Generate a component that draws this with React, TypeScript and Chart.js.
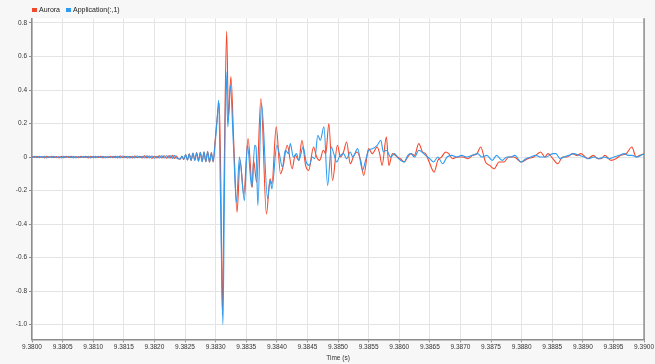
import { useEffect, useRef } from "react";
import { Chart, registerables } from "chart.js";

Chart.register(...registerables);

const seriesNames = ["Aurora", "Application(:,1)"];
const seriesColors = ["#f4482c", "#2e9cf0"];

const xMin = 9.38;
const xMax = 9.39;
const xStep = 0.0005;
const yMin = -1.088;
const yMax = 0.828;
const yStep = 0.2;
const xTitle = "Time (s)";

// shared sample times for the quiet part before the event (s)
const noiseTimes = [
  9.38, 9.38004, 9.38008, 9.38012, 9.38016, 9.3802, 9.38024, 9.38028, 9.38032, 9.38036,
  9.3804, 9.38044, 9.38048, 9.38052, 9.38056, 9.3806, 9.38064, 9.38068, 9.38072, 9.38076,
  9.3808, 9.38084, 9.38088, 9.38092, 9.38096, 9.381, 9.38104, 9.38108, 9.38112, 9.38116,
  9.3812, 9.38124, 9.38128, 9.38132, 9.38136, 9.3814, 9.38144, 9.38148, 9.38152, 9.38156,
  9.3816, 9.38164, 9.38168, 9.38172, 9.38176, 9.3818, 9.38184, 9.38188, 9.38192, 9.38196,
  9.382, 9.38204, 9.38208, 9.38212, 9.38216, 9.3822,
  9.38224, 9.38227, 9.3823, 9.38233, 9.38236, 9.38239, 9.38242, 9.38245, 9.38248, 9.38251,
  9.38254, 9.38257, 9.3826, 9.38263, 9.38266, 9.38269, 9.38272, 9.38275, 9.38278, 9.38281,
  9.38284, 9.38287, 9.3829,
];

const auroraNoise = [
  0.004, -0.003, 0.005, -0.004, 0.003, -0.005, 0.004, -0.003, 0.005, -0.004,
  0.003, -0.005, 0.004, -0.004, 0.005, -0.003, 0.004, -0.005, 0.003, -0.004,
  0.005, -0.003, 0.004, -0.005, 0.004, -0.004, 0.005, -0.003, 0.004, -0.005,
  0.003, -0.004, 0.005, -0.004, 0.004, -0.005, 0.006, -0.004, 0.005, -0.006,
  0.004, -0.005, 0.006, -0.004, 0.005, -0.006, 0.007, -0.005, 0.006, -0.007,
  0.005, -0.006, 0.007, -0.006, 0.008, -0.007,
  0.009, -0.007, 0.01, -0.009, 0.006, -0.011, -0.013, 0.004, -0.015, 0.013,
  -0.017, 0.019, -0.021, 0.022, -0.019, 0.026, -0.023, 0.028, -0.026, 0.03,
  -0.029, 0.032, -0.031,
];

const applicationNoise = [
  -0.003, 0.004, -0.004, 0.005, -0.003, 0.004, -0.005, 0.003, -0.004, 0.005,
  -0.004, 0.003, -0.005, 0.004, -0.003, 0.005, -0.004, 0.004, -0.005, 0.003,
  -0.004, 0.005, -0.003, 0.004, -0.005, 0.004, -0.004, 0.005, -0.003, 0.004,
  -0.005, 0.003, -0.004, 0.005, -0.004, 0.004, -0.005, 0.006, -0.004, 0.005,
  -0.006, 0.004, -0.005, 0.006, -0.004, 0.005, -0.006, 0.007, -0.005, 0.006,
  -0.007, 0.005, -0.006, 0.007, -0.006, 0.008,
  -0.006, 0.009, -0.008, 0.01, -0.007, -0.01, -0.012, 0.006, -0.013, 0.015,
  -0.018, 0.017, -0.02, 0.024, -0.021, 0.024, -0.025, 0.026, -0.028, 0.029,
  -0.027, 0.031, -0.03,
];

const auroraTimes = [
  9.38293, 9.38296, 9.38299, 9.38302, 9.38306, 9.38309, 9.38311, 9.38314, 9.38318, 9.38321,
  9.38325, 9.3833, 9.38335, 9.3834, 9.38346, 9.38353, 9.3836, 9.38362, 9.38367, 9.38374,
  9.38383, 9.38389, 9.38392, 9.38399, 9.38406, 9.3841, 9.38417, 9.38425, 9.3843, 9.38436,
  9.38441, 9.38447, 9.38452, 9.3846, 9.38465, 9.3847, 9.38476, 9.3848, 9.38485, 9.38491,
  9.38499, 9.38504, 9.38509, 9.38514, 9.3852, 9.38526, 9.38531, 9.38537, 9.38542, 9.3855,
  9.38556, 9.38564, 9.38568, 9.38572, 9.38579, 9.38583, 9.38589, 9.38597, 9.38602, 9.38608,
  9.38614, 9.38619, 9.38625, 9.38632, 9.38638, 9.38643, 9.38649, 9.38657, 9.38663, 9.38669,
  9.38676, 9.38681, 9.38687, 9.38696, 9.38704, 9.38712, 9.3872, 9.38727, 9.38733, 9.38741,
  9.38748, 9.38755, 9.38763, 9.38771, 9.38779, 9.38787, 9.38792, 9.38799, 9.3881, 9.3882,
  9.38831, 9.38838, 9.38843, 9.38849, 9.38859, 9.38867, 9.38874, 9.38883, 9.3889, 9.38897,
  9.38908, 9.38917, 9.38925, 9.3893, 9.38936, 9.38946, 9.38954, 9.38962, 9.38971, 9.3898,
  9.38987, 9.38993, 9.39,
];

const auroraValues = [
  0.027, -0.03, 0.09, 0.21, 0.32, -0.3, -0.94, -0.1, 0.75, 0.24,
  0.48, 0.05, -0.33, -0.02, -0.22, 0.11, -0.18, -0.02, -0.15, 0.35,
  -0.34, -0.13, -0.16, 0.18, -0.1, -0.06, 0.07, -0.07, 0.01, -0.02,
  0.1, -0.05, -0.08, 0.06, 0.0, -0.02, 0.04, 0.02, 0.2, -0.14,
  0.07, 0.0, 0.03, 0.09, -0.04, 0.01, 0.03, -0.02, -0.11, 0.05,
  0.02, 0.06, 0.02, -0.05, 0.12, -0.05, 0.02, 0.0, -0.01, -0.03,
  0.0, 0.02, 0.01, 0.08, 0.03, 0.02, -0.03, -0.09, -0.02, 0.0,
  0.03, 0.02, -0.01, 0.0, 0.0, -0.01, 0.01, 0.02, 0.06, -0.03,
  -0.05, -0.07, -0.03, -0.03, 0.0, 0.0, -0.01, -0.03, -0.01, 0.0,
  0.03, 0.0, 0.02, 0.0, -0.04, 0.0, 0.0, 0.02, 0.01, 0.02,
  -0.01, 0.01, -0.01, -0.01, 0.01, -0.02, -0.01, 0.01, 0.02, 0.06,
  0.0, 0.01, 0.02,
];

const applicationTimes = [
  9.38293, 9.38296, 9.38299, 9.38302, 9.38305, 9.38308, 9.38312, 9.38314, 9.38317, 9.3832,
  9.38324, 9.38329, 9.38334, 9.38339, 9.38347, 9.38352, 9.38359, 9.38364, 9.38366, 9.38369,
  9.38375, 9.38385, 9.38389, 9.38392, 9.384, 9.38404, 9.38409, 9.38414, 9.38419, 9.38422,
  9.38427, 9.38432, 9.38436, 9.38443, 9.38448, 9.38453, 9.38458, 9.38462, 9.38467, 9.38471,
  9.38477, 9.38483, 9.38489, 9.38493, 9.38498, 9.38502, 9.38509, 9.38514, 9.3852, 9.38524,
  9.38532, 9.3854, 9.38545, 9.3855, 9.38556, 9.38564, 9.3857, 9.38574, 9.38579, 9.38586,
  9.38592, 9.38599, 9.38608, 9.38614, 9.38619, 9.38625, 9.38632, 9.38637, 9.38643, 9.3865,
  9.38656, 9.38663, 9.38671, 9.38678, 9.38686, 9.38694, 9.38702, 9.3871, 9.38719, 9.38728,
  9.38735, 9.38743, 9.38752, 9.38759, 9.38768, 9.38776, 9.38782, 9.38789, 9.38799, 9.38807,
  9.38815, 9.38823, 9.38831, 9.3884, 9.38851, 9.38856, 9.38863, 9.38869, 9.38877, 9.38885,
  9.38894, 9.38902, 9.3891, 9.38918, 9.38926, 9.38935, 9.38943, 9.38951, 9.38959, 9.38968,
  9.38974, 9.3898, 9.38989, 9.38995, 9.39,
];

const applicationValues = [
  0.02, -0.025, 0.07, 0.2, 0.34, -0.25, -1.0, -0.35, 0.51, 0.18,
  0.43, 0.08, -0.27, 0.0, -0.26, 0.07, -0.18, 0.07, 0.06, -0.29,
  0.32, -0.25, -0.14, -0.19, 0.07, 0.02, -0.06, 0.04, 0.02, 0.08,
  0.0, 0.02, -0.02, 0.06, -0.03, -0.05, 0.0, -0.01, 0.13, 0.1,
  0.18, -0.17, 0.06, 0.02, -0.03, 0.0, 0.02, -0.01, 0.03, 0.0,
  0.05, -0.08, -0.02, 0.04, 0.05, 0.07, 0.1, 0.03, 0.04, 0.0,
  0.02, -0.01, -0.03, 0.01, 0.02, 0.0, 0.04, 0.03, 0.01, -0.01,
  -0.03, 0.0, -0.04, 0.0, 0.01, 0.0, 0.01, 0.0, 0.01, 0.02,
  0.0, 0.01, -0.02, 0.01, -0.02, 0.0, 0.0, 0.01, -0.03, -0.01,
  0.0, 0.01, 0.0, 0.0, 0.02, 0.02, -0.01, 0.0, 0.01, 0.02,
  0.01, 0.0, -0.01, 0.0, -0.01, 0.0, -0.01, 0.0, 0.01, 0.02,
  0.01, 0.01, 0.0, 0.01, 0.02,
];

const FONT = "'Liberation Sans', Arial, Helvetica, sans-serif";

function toPoints(times: number[], values: number[]) {
  const n = Math.min(times.length, values.length);
  const pts: { x: number; y: number }[] = [];
  for (let i = 0; i < n; i++) pts.push({ x: times[i], y: values[i] });
  return pts;
}

const plotFrame = {
  id: "plotFrame",
  beforeDraw(chart: any) {
    const { ctx, chartArea: a } = chart;
    ctx.save();
    ctx.fillStyle = "#ffffff";
    ctx.fillRect(a.left, a.top, a.right - a.left, a.bottom - a.top);
    ctx.restore();
  },
  afterDraw(chart: any) {
    const { ctx, chartArea: a } = chart;
    ctx.save();
    ctx.strokeStyle = "#8c8c8c";
    ctx.lineWidth = 1.5;
    ctx.beginPath();
    ctx.moveTo(a.right, a.top);
    ctx.lineTo(a.right, a.bottom);
    ctx.stroke();
    ctx.restore();
  },
};

export default function App() {
  const canvasRef = useRef<HTMLCanvasElement>(null);

  useEffect(() => {
    const canvas = canvasRef.current;
    if (!canvas) return;
    const chart = new Chart(canvas, {
      type: "line",
      data: {
        datasets: [
          {
            label: seriesNames[0],
            data: toPoints([...noiseTimes, ...auroraTimes], [...auroraNoise, ...auroraValues]),
            borderColor: seriesColors[0],
            backgroundColor: seriesColors[0],
            borderWidth: 1.1,
            pointRadius: 0,
            cubicInterpolationMode: "monotone",
            order: 1,
          },
          {
            label: seriesNames[1],
            data: toPoints([...noiseTimes, ...applicationTimes], [...applicationNoise, ...applicationValues]),
            borderColor: seriesColors[1],
            backgroundColor: seriesColors[1],
            borderWidth: 1.1,
            pointRadius: 0,
            cubicInterpolationMode: "monotone",
            order: 0,
          },
        ],
      },
      options: {
        animation: false,
        responsive: false,
        maintainAspectRatio: false,
        layout: { padding: { top: 18.3, right: 10, left: 0, bottom: 0 } },
        plugins: {
          legend: { display: false },
          tooltip: { enabled: false },
        },
        scales: {
          x: {
            type: "linear",
            min: xMin,
            max: xMax,
            afterFit: (s: any) => {
              s.height = 24.7;
            },
            ticks: {
              stepSize: xStep,
              autoSkip: false,
              maxRotation: 0,
              minRotation: 0,
              includeBounds: false,
              padding: 1,
              color: "#333333",
              font: { family: FONT, size: 6.5 },
              callback: (v: any) => Number(v).toFixed(4),
            },
            grid: { color: "#e4e4e4", lineWidth: 1, tickColor: "#8c8c8c", tickLength: 3 },
            border: { color: "#8c8c8c", width: 1.5 },
            title: {
              display: true,
              text: xTitle,
              color: "#333333",
              font: { family: FONT, size: 6.5 },
              padding: { top: 2, bottom: 2 },
            },
          },
          y: {
            type: "linear",
            min: yMin,
            max: yMax,
            afterFit: (s: any) => {
              s.width = 32;
            },
            ticks: {
              stepSize: yStep,
              includeBounds: false,
              padding: 2,
              color: "#333333",
              font: { family: FONT, size: 6.5 },
              callback: (v: any) => (Math.abs(Number(v)) < 1e-9 ? "0" : Number(v).toFixed(1)),
            },
            grid: { color: "#e4e4e4", lineWidth: 1, tickColor: "#8c8c8c", tickLength: 3 },
            border: { color: "#8c8c8c", width: 1.5 },
          },
        },
      },
      plugins: [plotFrame],
    } as any);
    return () => chart.destroy();
  }, []);

  return (
    <div
      style={{
        position: "fixed",
        left: 0,
        top: 0,
        width: 655,
        height: 364,
        background: "#f7f7f7",
        overflow: "hidden",
      }}
    >
      <canvas
        ref={canvasRef}
        width={655}
        height={364}
        style={{ position: "absolute", left: 0, top: 0, width: 655, height: 364 }}
      />
      <div
        style={{
          position: "absolute",
          left: 32,
          top: 5,
          display: "flex",
          alignItems: "center",
          fontFamily: FONT,
          fontSize: 7,
          color: "#222",
          lineHeight: "10px",
          whiteSpace: "nowrap",
        }}
      >
        {seriesNames.map((name, i) => (
          <span key={name} style={{ display: "inline-flex", alignItems: "center", marginRight: 6 }}>
            <span
              style={{
                display: "inline-block",
                width: 4.5,
                height: 4.5,
                background: seriesColors[i],
                marginRight: 2.5,
              }}
            />
            {name}
          </span>
        ))}
      </div>
    </div>
  );
}
